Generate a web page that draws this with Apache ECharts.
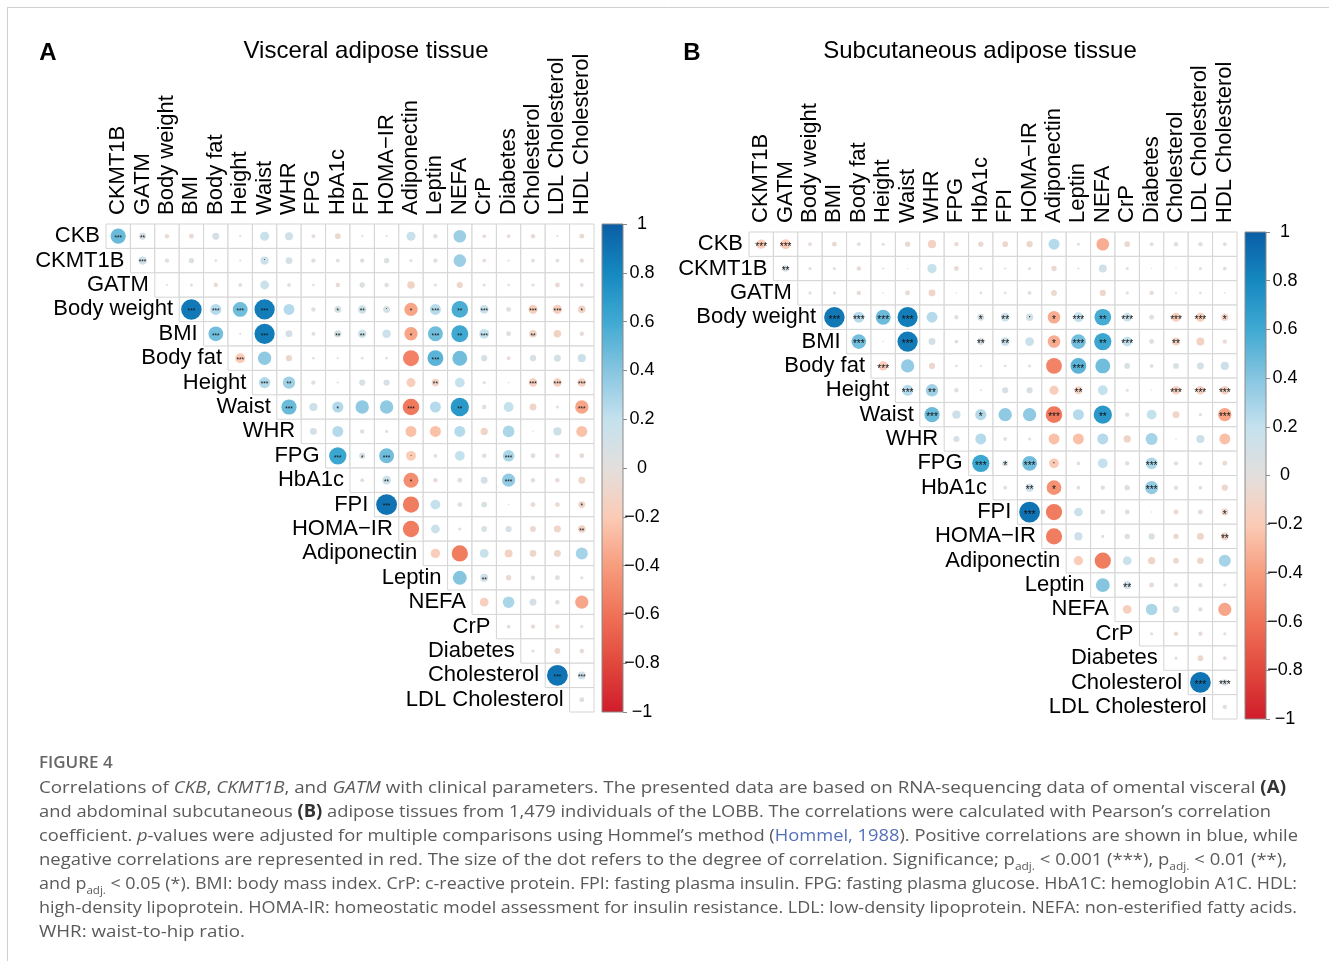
<!DOCTYPE html>
<html><head><meta charset="utf-8">
<script src="https://cdn.jsdelivr.net/npm/echarts@6/dist/echarts.min.js"></script>
<style>html,body{margin:0;padding:0;background:#fff}#c{width:1329px;height:961px}</style>
</head><body><div id="c"></div>
<script>
// ---------------- DATA ----------------
const rowLabels = ['CKB','CKMT1B','GATM','Body weight','BMI','Body fat','Height','Waist','WHR','FPG','HbA1c','FPI','HOMA\u2212IR','Adiponectin','Leptin','NEFA','CrP','Diabetes','Cholesterol','LDL Cholesterol'];
const colLabels = ['CKMT1B','GATM','Body weight','BMI','Body fat','Height','Waist','WHR','FPG','HbA1c','FPI','HOMA\u2212IR','Adiponectin','Leptin','NEFA','CrP','Diabetes','Cholesterol','LDL Cholesterol','HDL Cholesterol'];
const colorbarTicks = [1,0.8,0.6,0.4,0.2,0,-0.2,-0.4,-0.6,-0.8,-1];

// row i holds correlations with columns i..19
const visceralR = [
 [0.48,0.10,-0.04,-0.05,0.10,-0.01,0.17,0.13,-0.03,-0.07,0.01,0.01,0.17,0.04,0.33,-0.03,-0.03,-0.04,-0.01,-0.05],
 [0.14,0.04,0.06,0.015,-0.01,0.14,0.10,0.04,0.03,0.04,0.06,0.02,0.04,0.33,-0.03,-0.01,0.03,0.03,-0.04],
 [-0.01,-0.02,-0.04,0.03,0.16,0.03,-0.015,-0.04,0.06,0.04,-0.12,-0.02,-0.08,-0.02,-0.015,-0.02,-0.05,-0.03],
 [0.87,0.25,0.46,0.85,0.25,0.04,0.10,0.15,0.10,-0.37,0.25,0.57,0.16,0.05,-0.17,-0.17,-0.12],
 [0.45,0.01,0.85,0.10,0.03,0.11,0.15,0.15,-0.37,0.46,0.60,0.20,0.05,-0.12,-0.12,-0.04],
 [-0.20,0.37,-0.08,-0.015,-0.01,0.015,-0.015,-0.53,0.52,0.46,0.08,-0.03,0.08,0.10,0.14],
 [0.26,0.32,0.04,0.01,0.08,0.08,-0.17,-0.12,0.20,-0.02,-0.005,-0.15,-0.15,-0.15],
 [0.48,0.14,0.26,0.37,0.37,-0.57,0.25,0.70,0.04,0.20,-0.10,-0.02,-0.37],
 [0.10,0.25,0.04,0.02,-0.25,-0.25,0.25,-0.11,0.28,-0.005,0.14,-0.25],
 [0.62,0.08,0.46,-0.20,0.03,0.20,0.04,0.28,0.05,-0.04,-0.05],
 [0.03,0.16,-0.47,-0.04,0.05,0.10,0.36,0.04,-0.04,-0.10],
 [0.90,-0.55,0.20,0.05,0.07,0.005,-0.05,-0.05,-0.10],
 [-0.55,0.16,0.02,0.07,0.08,-0.07,-0.10,-0.12],
 [-0.18,-0.55,0.16,-0.13,-0.09,-0.10,0.30],
 [0.40,0.13,-0.06,0.04,0.05,-0.02],
 [-0.16,0.28,0.10,0.04,-0.36],
 [0.03,-0.04,-0.04,-0.02],
 [-0.02,-0.07,-0.04],
 [0.90,0.13],
 [0.05]
];
// [row, column, label]
const visceralSig = [
 [0,0,'***'],[0,1,'**'],[1,1,'***'],[1,6,'.'],
 [3,3,'***'],[3,4,'***'],[3,5,'***'],[3,6,'***'],[3,9,'*'],[3,10,'**'],[3,11,'.'],[3,12,'*'],[3,13,'***'],[3,14,'**'],[3,15,'***'],[3,17,'***'],[3,18,'***'],[3,19,'*'],
 [4,4,'***'],[4,6,'***'],[4,9,'**'],[4,10,'**'],[4,12,'*'],[4,13,'***'],[4,14,'**'],[4,15,'***'],[4,17,'**'],
 [5,5,'***'],[5,13,'***'],
 [6,6,'***'],[6,7,'**'],[6,13,'**'],[6,17,'***'],[6,18,'***'],[6,19,'***'],
 [7,7,'***'],[7,9,'*'],[7,12,'***'],[7,14,'**'],[7,19,'***'],
 [9,9,'***'],[9,10,'*'],[9,11,'***'],[9,12,'.'],[9,16,'***'],
 [10,11,'**'],[10,12,'*'],[10,16,'***'],
 [11,11,'***'],[11,19,'*'],[12,19,'**'],[14,15,'**'],
 [18,18,'***'],[18,19,'***']
];

const subcutR = [
 [-0.18,-0.20,-0.03,-0.05,0.03,0.02,-0.06,-0.14,-0.04,-0.06,-0.07,-0.08,0.25,0.02,-0.33,-0.07,-0.03,0.04,0.04,0.03],
 [0.09,-0.02,-0.02,-0.04,-0.01,0.005,0.18,-0.05,-0.015,-0.01,-0.02,-0.06,-0.01,0.13,-0.02,-0.005,-0.005,-0.02,0.03],
 [-0.02,-0.02,-0.04,-0.005,-0.05,-0.10,-0.005,0.015,-0.015,0.03,-0.07,0.0,-0.08,-0.02,-0.04,-0.01,0.015,-0.005],
 [0.88,0.25,0.47,0.85,0.25,0.04,0.10,0.16,0.11,-0.33,0.20,0.58,0.16,0.05,-0.17,-0.17,-0.11],
 [0.45,0.005,0.86,0.10,0.03,0.10,0.16,0.16,-0.33,0.45,0.62,0.20,0.05,-0.13,-0.13,-0.04],
 [-0.18,0.36,-0.08,-0.015,-0.01,-0.015,-0.02,-0.52,0.52,0.46,0.07,-0.03,0.07,0.10,0.14],
 [0.25,0.32,0.04,0.01,0.08,0.08,-0.17,-0.13,0.20,-0.02,-0.005,-0.15,-0.15,-0.15],
 [0.48,0.14,0.26,0.37,0.37,-0.57,0.25,0.70,0.04,0.20,-0.10,-0.02,-0.37],
 [0.08,0.25,0.03,0.02,-0.25,-0.25,0.25,-0.11,0.30,-0.005,0.14,-0.25],
 [0.62,0.08,0.46,-0.20,0.03,0.20,0.04,0.28,0.04,-0.03,-0.05],
 [0.03,0.14,-0.45,-0.03,0.04,0.06,0.36,0.04,-0.03,-0.08],
 [0.90,-0.55,0.16,0.05,0.05,0.005,-0.05,-0.05,-0.10],
 [-0.55,0.14,0.02,0.06,0.08,-0.06,-0.10,-0.12],
 [-0.18,-0.55,0.16,-0.11,-0.07,-0.09,0.30],
 [0.40,0.13,-0.05,0.04,0.04,-0.02],
 [-0.16,0.28,0.10,0.04,-0.36],
 [0.02,-0.04,-0.04,-0.02],
 [-0.02,-0.07,-0.03],
 [0.90,0.09],
 [0.04]
];
const subcutSig = [
 [0,0,'***'],[0,1,'***'],[1,1,'**'],
 [3,3,'***'],[3,4,'***'],[3,5,'***'],[3,6,'***'],[3,9,'*'],[3,10,'**'],[3,11,'.'],[3,12,'*'],[3,13,'***'],[3,14,'**'],[3,15,'***'],[3,17,'***'],[3,18,'***'],[3,19,'*'],
 [4,4,'***'],[4,6,'***'],[4,9,'**'],[4,10,'**'],[4,12,'*'],[4,13,'***'],[4,14,'**'],[4,15,'***'],[4,17,'**'],
 [5,5,'***'],[5,13,'***'],
 [6,6,'***'],[6,7,'**'],[6,13,'**'],[6,17,'***'],[6,18,'***'],[6,19,'***'],
 [7,7,'***'],[7,9,'*'],[7,12,'***'],[7,14,'**'],[7,19,'***'],
 [9,9,'***'],[9,10,'*'],[9,11,'***'],[9,12,'.'],[9,16,'***'],
 [10,11,'**'],[10,12,'*'],[10,16,'***'],
 [11,11,'***'],[11,19,'*'],[12,19,'**'],[14,15,'**'],
 [18,18,'***'],[18,19,'***']
];

// caption lines: [style, text] fragments
const captionLines = [
 [['n','Correlations of '],['i','CKB'],['n',', '],['i','CKMT1B'],['n',', and '],['i','GATM'],['n',' with clinical parameters. The presented data are based on RNA-sequencing data of omental visceral '],['b','(A)']],
 [['n','and abdominal subcutaneous '],['b','(B)'],['n',' adipose tissues from 1,479 individuals of the LOBB. The correlations were calculated with Pearson\u2019s correlation']],
 [['n','coefficient. '],['i','p'],['n','-values were adjusted for multiple comparisons using Hommel\u2019s method ('],['l','Hommel, 1988'],['n','). Positive correlations are shown in blue, while']],
 [['n','negative correlations are represented in red. The size of the dot refers to the degree of correlation. Significance; p'],['s','adj.'],['n',' < 0.001 (***), p'],['s','adj.'],['n',' < 0.01 (**),']],
 [['n','and p'],['s','adj.'],['n',' < 0.05 (*). BMI: body mass index. CrP: c-reactive protein. FPI: fasting plasma insulin. FPG: fasting plasma glucose. HbA1C: hemoglobin A1C. HDL:']],
 [['n','high-density lipoprotein. HOMA-IR: homeostatic model assessment for insulin resistance. LDL: low-density lipoprotein. NEFA: non-esterified fatty acids.']],
 [['n','WHR: waist-to-hip ratio.']]
];

// ---------------- STYLE ----------------
const FONT = '"Liberation Sans", Arial, sans-serif';
const CAPFONT = '"Open Sans", "Noto Sans", sans-serif';
const capRight = [1286,1271,1298,1287,1297,1297,245];
const colorStops = [
 [-1,'#D01C2B'],[-0.8,'#E1483D'],[-0.6,'#EF7257'],[-0.4,'#F79D7E'],[-0.2,'#FBCBB6'],
 [0,'#E3DFDD'],[0.2,'#C4E1EE'],[0.4,'#86C5E0'],[0.6,'#3FA9D2'],[0.8,'#1588C0'],[1,'#0A5DA5']
];
function hex2rgb(h){return [parseInt(h.slice(1,3),16),parseInt(h.slice(3,5),16),parseInt(h.slice(5,7),16)];}
function corrColor(v){
  v=Math.max(-1,Math.min(1,v));
  for(let k=0;k<colorStops.length-1;k++){
    const [a,ca]=colorStops[k],[b,cb]=colorStops[k+1];
    if(v>=a&&v<=b){const t=(v-a)/(b-a);const A=hex2rgb(ca),B=hex2rgb(cb);
      return 'rgb('+A.map((x,i)=>Math.round(x+(B[i]-x)*t)).join(',')+')';}
  }
  return colorStops[colorStops.length-1][1];
}

function panelSeries(gi, R, sigList, starSize){
  const cells=[], dots=[];
  R.forEach((row,i)=>row.forEach((v,k)=>{cells.push([i+k,i]);dots.push([i+k,i,v]);}));
  const sigMap={}; sigList.forEach(s=>{sigMap[s[0]+'_'+s[1]]=s[2];});
  return [
    {type:'custom',xAxisIndex:gi,yAxisIndex:gi,data:cells,silent:true,z:1,
     renderItem:(p,api)=>{const c=api.coord([api.value(0),api.value(1)]);const s=api.size([1,1]);
       return {type:'rect',shape:{x:c[0]-s[0]/2,y:c[1]-s[1]/2,width:s[0],height:s[1]},
         style:{fill:'#fff',stroke:'#d4d4d4',lineWidth:1}};}},
    {type:'custom',xAxisIndex:gi,yAxisIndex:gi,data:dots,silent:true,z:2,
     renderItem:(p,api)=>{const j=api.value(0),i=api.value(1),v=api.value(2);
       const c=api.coord([j,i]);const s=api.size([1,1]);
       const r=0.45*Math.min(s[0],s[1])*Math.sqrt(Math.abs(v));
       const ch=[{type:'circle',shape:{cx:c[0],cy:c[1],r:r},style:{fill:corrColor(v)}}];
       const lab=sigMap[i+'_'+j];
       if(lab){const isDot=lab==='.';
         ch.push({type:'text',x:c[0],y:c[1]+(isDot?0:starSize*0.3),
           style:{text:isDot?'\u00B7':lab,align:'center',verticalAlign:'middle',
             fontSize:starSize,fontFamily:FONT,fill:'#111'}});}
       return {type:'group',children:ch};}},
    {type:'custom',xAxisIndex:gi,yAxisIndex:gi,data:rowLabels.map((_,i)=>[i,i]),silent:true,z:3,
     renderItem:(p,api)=>{const i=api.value(1);const c=api.coord([i,i]);const s=api.size([1,1]);
       return {type:'text',x:c[0]-s[0]/2-6,y:c[1],
         style:{text:rowLabels[i],align:'right',verticalAlign:'middle',fontSize:22,fontFamily:FONT,fill:'#000'}};}}
  ];
}
function colorbarSeries(gi){
  return {type:'custom',xAxisIndex:gi,yAxisIndex:gi,data:[[0,1]],silent:true,
    renderItem:(p,api)=>{const cs=p.coordSys;const top=api.coord([0,1])[1],bot=api.coord([0,-1])[1];
      return {type:'rect',shape:{x:cs.x,y:top,width:cs.width,height:bot-top},
        style:{fill:new echarts.graphic.LinearGradient(0,1,0,0,colorStops.map(s=>({offset:(s[0]+1)/2,color:s[1]}))),
          stroke:'#8a8a8a',lineWidth:1}};}};
}

const grids=[
  {left:106,top:224,width:488,height:488},
  {left:749,top:232,width:488,height:487},
  {left:602,top:224,width:21,height:488},
  {left:1245,top:232,width:21,height:487}
];
function matXAxis(gi){return {type:'category',gridIndex:gi,data:colLabels,position:'top',
  axisLine:{show:false},axisTick:{show:false},splitLine:{show:false},
  axisLabel:{rotate:-90,interval:0,margin:9,fontSize:22,fontFamily:FONT,color:'#000'}};}
function matYAxis(gi){return {type:'category',gridIndex:gi,data:rowLabels,inverse:true,show:false};}
function cbYAxis(gi){return {type:'value',gridIndex:gi,min:-1,max:1,interval:0.2,position:'right',
  axisLine:{show:false},splitLine:{show:false},
  axisTick:{show:true,length:4,lineStyle:{color:'#8a8a8a'}},
  axisLabel:{margin:19,align:'center',fontSize:18,fontFamily:FONT,color:'#000',
    formatter:v=>{const n=Math.round(v*10)/10;return n<0?'\u2212'+Math.abs(n):String(n);}}};}

// caption
const capColor='#5a5a5a';
const CAPSIZE=17;
const rich={
  n:{fontSize:CAPSIZE,fontFamily:CAPFONT,fill:capColor,lineHeight:24},
  i:{fontSize:CAPSIZE,fontFamily:CAPFONT,fill:capColor,fontStyle:'italic',lineHeight:24},
  b:{fontSize:CAPSIZE,fontFamily:CAPFONT,fill:'#333',fontWeight:'bold',lineHeight:24},
  l:{fontSize:CAPSIZE,fontFamily:CAPFONT,fill:'#5470b8',lineHeight:24},
  s:{fontSize:11,fontFamily:CAPFONT,fill:capColor,verticalAlign:'bottom',lineHeight:15}
};
const mctx=document.createElement('canvas').getContext('2d');
function fragWidth(st,t){const r=rich[st];
  mctx.font=(r.fontStyle?r.fontStyle+' ':'')+(r.fontWeight?r.fontWeight+' ':'')+r.fontSize+'px '+r.fontFamily;
  return mctx.measureText(t).width;}
const CAPX=39;
const graphics=[
  {type:'line',shape:{x1:8,y1:7.5,x2:1329,y2:7.5},style:{stroke:'#cfcfcf',lineWidth:1}},
  {type:'line',shape:{x1:7.5,y1:7,x2:7.5,y2:961},style:{stroke:'#cfcfcf',lineWidth:1}},
  {type:'text',x:48,y:53,style:{text:'A',fontSize:24,fontWeight:'bold',fontFamily:FONT,fill:'#000',align:'center',verticalAlign:'middle'}},
  {type:'text',x:692,y:53,style:{text:'B',fontSize:24,fontWeight:'bold',fontFamily:FONT,fill:'#000',align:'center',verticalAlign:'middle'}},
  {type:'text',x:366,y:51,style:{text:'Visceral adipose tissue',fontSize:24,fontFamily:FONT,fill:'#000',align:'center',verticalAlign:'middle'}},
  {type:'text',x:980,y:51,style:{text:'Subcutaneous adipose tissue',fontSize:24,fontFamily:FONT,fill:'#000',align:'center',verticalAlign:'middle'}},
  {type:'text',x:CAPX,y:763,style:{text:'FIGURE 4',fontSize:17,fontWeight:600,fontFamily:CAPFONT,fill:'#666',align:'left',verticalAlign:'middle'}}
];
captionLines.forEach((frags,k)=>{
  const text=frags.map(f=>'{'+f[0]+'|'+f[1]+'}').join('');
  const w=frags.reduce((a,f)=>a+fragWidth(f[0],f[1]),0);
  let sx=(capRight[k]-CAPX)/w; if(!isFinite(sx)||sx<0.9||sx>1.25) sx=1.08;
  graphics.push({type:'text',x:CAPX,y:788+24*k,scaleX:sx,
    style:{text:text,rich:rich,align:'left',verticalAlign:'middle',fontSize:CAPSIZE,fontFamily:CAPFONT,fill:capColor}});
});

const chart=echarts.init(document.getElementById('c'));
chart.setOption({
  animation:false,
  backgroundColor:'#fff',
  grid:grids,
  xAxis:[matXAxis(0),matXAxis(1),
    {type:'category',gridIndex:2,data:['c'],show:false},
    {type:'category',gridIndex:3,data:['c'],show:false}],
  yAxis:[matYAxis(0),matYAxis(1),cbYAxis(2),cbYAxis(3)],
  series:[...panelSeries(0,visceralR,visceralSig,6.5),...panelSeries(1,subcutR,subcutSig,10),
    colorbarSeries(2),colorbarSeries(3)],
  graphic:graphics
});
</script></body></html>
